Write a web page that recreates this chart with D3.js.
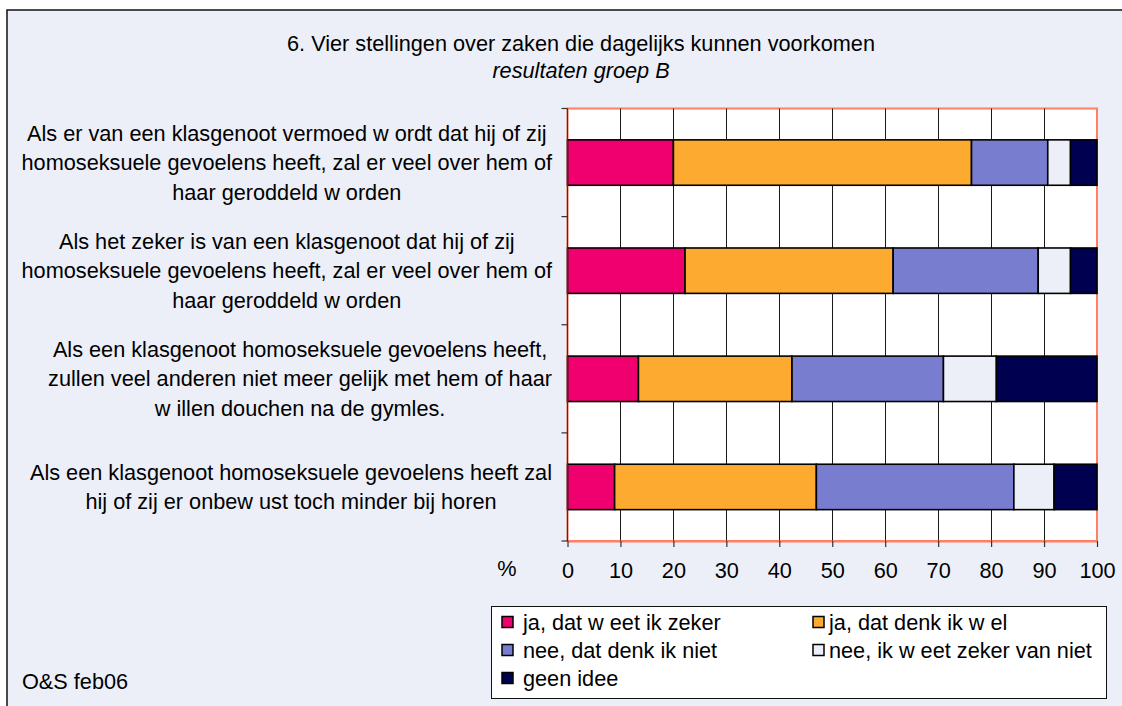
<!DOCTYPE html>
<html>
<head>
<meta charset="utf-8">
<script src="https://cdnjs.cloudflare.com/ajax/libs/d3/7.8.5/d3.min.js"></script>
<style>
  body { margin: 0; background: #fff; }
  svg { display: block; font-family: "Liberation Sans", Arial, sans-serif; }
</style>
</head>
<body>
<div id="chart"></div>
<script>
// Statements (one entry per bar, split into display lines)
const statements = [
  ['Als er van een klasgenoot vermoed w ordt dat hij of zij', 'homoseksuele gevoelens heeft, zal er veel over hem of', 'haar geroddeld w orden'],
  ['Als het zeker is van een klasgenoot dat hij of zij', 'homoseksuele gevoelens heeft, zal er veel over hem of', 'haar geroddeld w orden'],
  ['Als een klasgenoot homoseksuele gevoelens heeft,', 'zullen veel anderen niet meer gelijk met hem of haar', 'w illen douchen na de gymles.'],
  ['Als een klasgenoot homoseksuele gevoelens heeft zal', 'hij of zij er onbew ust toch minder bij horen']
];

const seriesNames = ['ja, dat w eet ik zeker', 'ja, dat denk ik w el', 'nee, dat denk ik niet', 'nee, ik w eet zeker van niet', 'geen idee'];
const seriesColors = ['#f0006e', '#fdab30', '#787dcf', '#eceff8', '#000050'];

// percentages per statement
const jaZeker  = [20.0, 22.2, 13.4, 8.9];
const jaDenk   = [56.3, 39.3, 29.0, 38.1];
const neeDenk  = [14.4, 27.4, 28.6, 37.3];
const neeZeker = [4.3, 6.1, 10.0, 7.6];
const geenIdee = [5.0, 5.0, 19.0, 8.1];

const xTicks = [0, 10, 20, 30, 40, 50, 60, 70, 80, 90, 100];

const title = '6. Vier stellingen over zaken die dagelijks kunnen voorkomen';
const subtitle = 'resultaten groep B';
const footnote = 'O&S feb06';

const width = 1122, height = 706;
const fs = 21.7;
const plot = { left: 567.5, right: 1097, top: 108.5, bottom: 541 };

const rows = statements.map((s, i) => ({
  id: i,
  lines: s,
  [seriesNames[0]]: jaZeker[i],
  [seriesNames[1]]: jaDenk[i],
  [seriesNames[2]]: neeDenk[i],
  [seriesNames[3]]: neeZeker[i],
  [seriesNames[4]]: geenIdee[i]
}));

const svg = d3.select('#chart').append('svg')
  .attr('width', width)
  .attr('height', height);

// outer chart area
svg.append('rect')
  .attr('x', 7).attr('y', 10)
  .attr('width', width + 10).attr('height', height + 10)
  .attr('fill', '#eceff8')
  .attr('stroke', '#111')
  .attr('stroke-width', 1.5);

// title
svg.append('text')
  .attr('x', 581).attr('y', 51)
  .attr('text-anchor', 'middle')
  .attr('font-size', fs)
  .text(title);
svg.append('text')
  .attr('x', 581).attr('y', 78)
  .attr('text-anchor', 'middle')
  .attr('font-size', fs)
  .attr('font-style', 'italic')
  .text(subtitle);

const x = d3.scaleLinear().domain([0, 100]).range([plot.left, plot.right]);
const y = d3.scaleBand()
  .domain(rows.map(d => d.id))
  .range([plot.top, plot.bottom])
  .paddingInner(0.58)
  .paddingOuter(0.29);

// plot background
svg.append('rect')
  .attr('x', plot.left).attr('y', plot.top)
  .attr('width', plot.right - plot.left)
  .attr('height', plot.bottom - plot.top)
  .attr('fill', '#fff')
  .attr('stroke', '#ff7f5f')
  .attr('stroke-width', 2);

// vertical gridlines
svg.append('g').selectAll('line')
  .data(xTicks.slice(1, -1))
  .join('line')
  .attr('x1', d => Math.round(x(d)) + 0.5)
  .attr('x2', d => Math.round(x(d)) + 0.5)
  .attr('y1', plot.top)
  .attr('y2', plot.bottom)
  .attr('stroke', '#1a1a1a')
  .attr('stroke-width', 1);

// stacked bars
const stacked = d3.stack().keys(seriesNames)(rows);

svg.append('g').selectAll('g')
  .data(stacked)
  .join('g')
  .attr('fill', (d, i) => seriesColors[i])
  .selectAll('rect')
  .data(d => d)
  .join('rect')
  .attr('x', d => x(d[0]))
  .attr('y', d => y(d.data.id))
  .attr('width', d => x(d[1]) - x(d[0]))
  .attr('height', y.bandwidth())
  .attr('stroke', '#000')
  .attr('stroke-width', 1.6);

// y axis line + ticks at category boundaries
const yAxis = svg.append('g');
yAxis.append('line')
  .attr('x1', plot.left).attr('x2', plot.left)
  .attr('y1', plot.top).attr('y2', plot.bottom)
  .attr('stroke', '#333').attr('stroke-width', 1.2);
yAxis.selectAll('.ytick')
  .data(d3.range(rows.length + 1))
  .join('line')
  .attr('class', 'ytick')
  .attr('x1', plot.left - 6).attr('x2', plot.left)
  .attr('y1', i => y.range()[0] + (y.range()[1] - y.range()[0]) * i / rows.length)
  .attr('y2', i => y.range()[0] + (y.range()[1] - y.range()[0]) * i / rows.length)
  .attr('stroke', '#333').attr('stroke-width', 1.2);

// x axis
const xAxis = svg.append('g')
  .attr('transform', `translate(0,${plot.bottom})`)
  .call(d3.axisBottom(x).tickValues(xTicks).tickSize(6).tickPadding(16).tickSizeOuter(0));
xAxis.select('.domain').attr('stroke', '#ff7f5f').attr('stroke-width', 2);
xAxis.selectAll('.tick line').attr('stroke', '#333').attr('stroke-width', 1.2);
xAxis.selectAll('.tick text')
  .attr('font-size', fs)
  .attr('font-family', '"Liberation Sans", Arial, sans-serif')
  .attr('fill', '#000');

svg.append('text')
  .attr('x', 507).attr('y', 576)
  .attr('text-anchor', 'middle')
  .attr('font-size', fs)
  .text('%');

// category labels, each block centred on its own longest line, right edge at 552
const lineH = 29.5;
const labels = svg.append('g').attr('font-size', fs);
rows.forEach(r => {
  const g = labels.append('g');
  const cy = y(r.id) + y.bandwidth() / 2;
  const texts = r.lines.map((t, j) => g.append('text')
    .attr('y', cy + (j - (r.lines.length - 1) / 2) * lineH + 7.5)
    .attr('text-anchor', 'middle')
    .text(t));
  const maxW = d3.max(texts, t => t.node().getComputedTextLength());
  texts.forEach(t => t.attr('x', 552 - maxW / 2));
});

// legend
const legend = svg.append('g');
legend.append('rect')
  .attr('x', 491.5).attr('y', 606.5)
  .attr('width', 615).attr('height', 92)
  .attr('fill', '#fff')
  .attr('stroke', '#111').attr('stroke-width', 1);

const legendCols = [502, 813];
const legendTextX = [523, 829];
const legendRows = [622, 650, 678];
seriesNames.forEach((name, i) => {
  const lx = legendCols[i % 2];
  const ly = legendRows[Math.floor(i / 2)];
  legend.append('rect')
    .attr('x', lx).attr('y', ly - 5.5)
    .attr('width', 11).attr('height', 11)
    .attr('fill', seriesColors[i])
    .attr('stroke', '#000').attr('stroke-width', 1.5);
  legend.append('text')
    .attr('x', legendTextX[i % 2]).attr('y', ly + 7.5)
    .attr('font-size', fs)
    .text(name);
});

// footnote
svg.append('text')
  .attr('x', 22).attr('y', 689)
  .attr('font-size', fs)
  .text(footnote);
</script>
</body>
</html>
